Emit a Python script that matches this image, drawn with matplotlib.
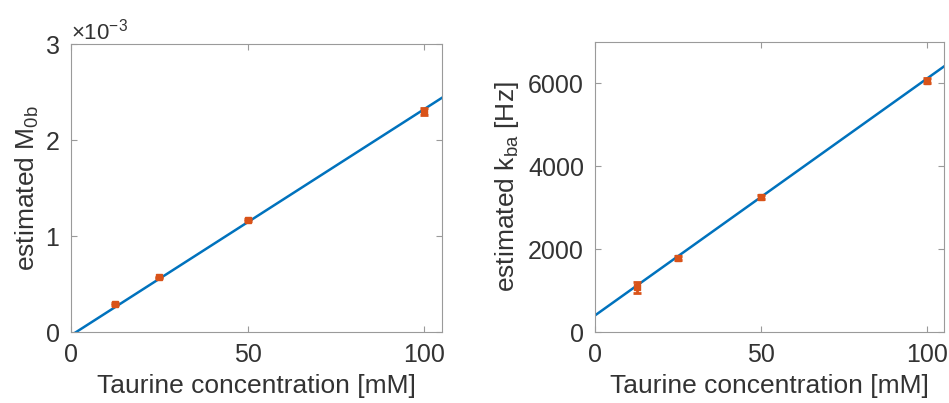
import matplotlib.pyplot as plt
from matplotlib.ticker import ScalarFormatter

plt.rcParams['font.family'] = 'Liberation Sans'
plt.rcParams['mathtext.fontset'] = 'custom'
plt.rcParams['mathtext.rm'] = 'Liberation Sans'
plt.rcParams['mathtext.it'] = 'Liberation Sans'
plt.rcParams['font.size'] = 14

# data
conc = [12.5, 25, 50, 100]  # mM
m0b = [0.29e-3, 0.57e-3, 1.165e-3, 2.30e-3]
m0b_err = [0.012e-3, 0.008e-3, 0.008e-3, 0.035e-3]
kba = [1080, 1790, 3260, 6070]  # Hz
kba_err = [130, 40, 40, 70]

# linear fits (end points)
fit_x = [0, 105]
fit_m0b = [-0.035e-3, 2.44e-3]
fit_kba = [400, 6410]

blue = '#0072BD'
orange = '#D95319'
txt = '#333333'
edge = '#9a9a9a'

fig = plt.figure(figsize=(9.49, 4.03), dpi=100)
ax1 = fig.add_axes([71/949, 71/403, 371/949, 288/403])
ax2 = fig.add_axes([595/949, 71/403, 349/949, 290/403])


def style(ax):
    for s in ax.spines.values():
        s.set_color(edge)
        s.set_linewidth(0.8)
    ax.tick_params(direction='in', top=True, right=True, length=4,
                   color=edge, labelcolor=txt, labelsize=18, pad=8)
    ax.set_xlabel('Taurine concentration [mM]', color=txt, fontsize=19, labelpad=5)


ax1.plot(fit_x, fit_m0b, color=blue, lw=1.8, zorder=2)
ax1.errorbar(conc, m0b, yerr=m0b_err, fmt='s', color=orange, ms=5,
             capsize=3, elinewidth=2, capthick=2, zorder=3)
ax1.set_xlim(0, 105)
ax1.set_ylim(0, 3e-3)
ax1.set_xticks([0, 50, 100])
ax1.set_yticks([0, 1e-3, 2e-3, 3e-3])
fmt = ScalarFormatter(useMathText=True)
fmt.set_powerlimits((-2, 2))
ax1.yaxis.set_major_formatter(fmt)
ax1.yaxis.get_offset_text().set_color(txt)
ax1.yaxis.get_offset_text().set_fontsize(16)
ax1.set_ylabel('estimated M$_{\\mathrm{0b}}$', color=txt, fontsize=19, labelpad=3)
style(ax1)

ax2.plot(fit_x, fit_kba, color=blue, lw=1.8, zorder=2)
ax2.errorbar(conc, kba, yerr=kba_err, fmt='s', color=orange, ms=5,
             capsize=3, elinewidth=2, capthick=2, zorder=3)
ax2.set_xlim(0, 105)
ax2.set_ylim(0, 7000)
ax2.set_xticks([0, 50, 100])
ax2.set_yticks([0, 2000, 4000, 6000])
ax2.set_ylabel('estimated k$_{\\mathrm{ba}}$ [Hz]', color=txt, fontsize=19, labelpad=5)
style(ax2)

fig.savefig('out.png', dpi=100)
